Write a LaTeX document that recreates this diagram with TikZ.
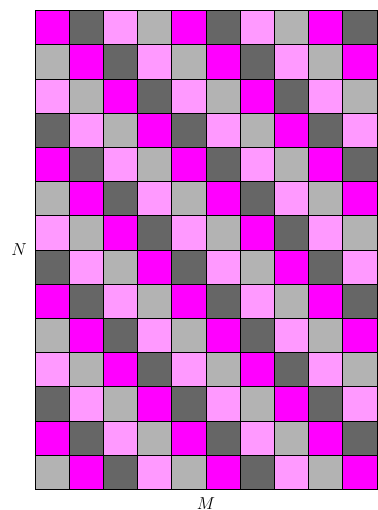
\documentclass[tikz,border=0pt]{standalone}
\begin{document}
\begin{tikzpicture}[x=1cm,y=1cm,
  cellbox/.style={draw=black,line width=0.8pt},
  axlabel/.style={font=\Large}]
\useasboundingbox (-1.025,-0.6) rectangle (10.0,14.31);
\definecolor{cA}{HTML}{FF00FF}
\definecolor{cB}{HTML}{666666}
\definecolor{cC}{HTML}{FF99FF}
\definecolor{cD}{HTML}{B3B3B3}
\foreach \r in {0,...,13}{
  \foreach \c in {0,...,9}{
    \pgfmathtruncatemacro{\k}{mod(\c-\r+16,4)}
    \ifcase\k \def\col{cA}\or \def\col{cB}\or \def\col{cC}\or \def\col{cD}\fi
    \path[cellbox,fill=\col] (\c,13-\r) rectangle ++(1,1);
  }
}
\node[axlabel] (N) at (-0.47,7) {$N$};
\node[axlabel] (M) at (5,-0.42) {$M$};
\end{tikzpicture}
\end{document}
